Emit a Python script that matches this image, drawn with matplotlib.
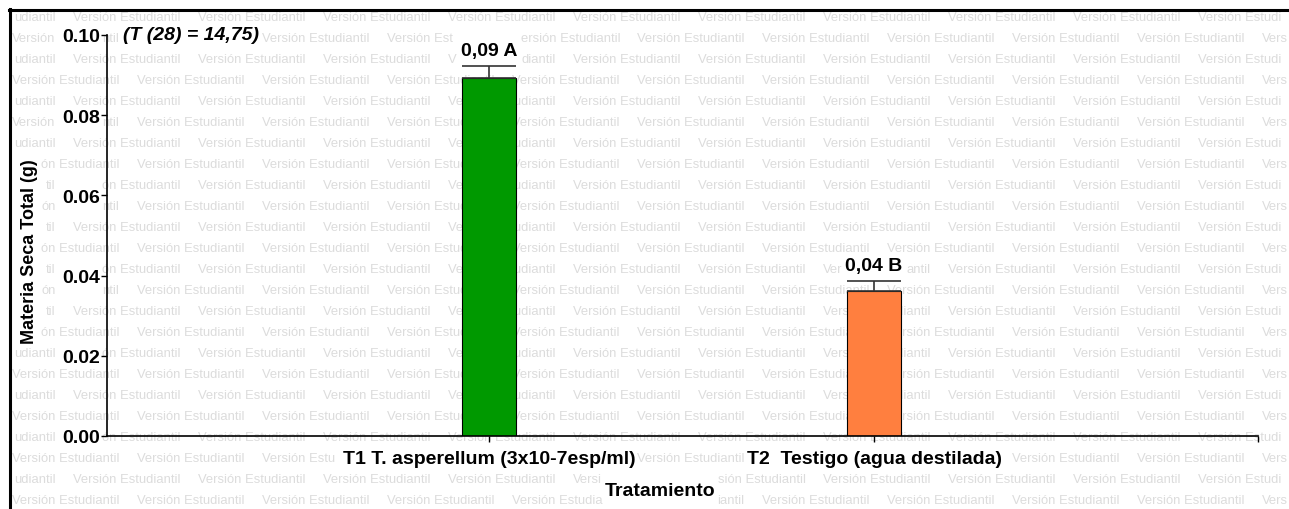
import matplotlib
matplotlib.use("Agg")
import matplotlib.pyplot as plt
from matplotlib.lines import Line2D
from matplotlib.font_manager import FontProperties

# ---- data ----
categories = ["T1 T. asperellum (3x10-7esp/ml)", "T2  Testigo (agua destilada)"]
means = [0.0894, 0.0362]
errors = [0.0029, 0.0025]
letters = ["0,09 A", "0,04 B"]
bar_colors = ["#009900", "#FF7F3F"]
yticks = [0.00, 0.02, 0.04, 0.06, 0.08, 0.10]
ytick_labels = ["0.00", "0.02", "0.04", "0.06", "0.08", "0.10"]
stat_text = "(T (28) = 14,75)"
xlabel = "Tratamiento"
ylabel = "Materia Seca Total (g)"
watermark = "Versión Estudiantil"

W, H = 1289, 510
plt.rcParams['font.family'] = ['Liberation Sans', 'DejaVu Sans']
fig = plt.figure(figsize=(W / 100, H / 100), dpi=100)
white_box = dict(facecolor='white', edgecolor='none', pad=1)

# ---- main axes ----
x0, x1 = 107, 1258
y0, y1 = 437, 36
ax = fig.add_axes([x0 / W, (H - y0) / H, (x1 - x0) / W, (y0 - y1) / H], zorder=2)
ax.set_facecolor('none')
xpos = list(range(len(categories)))
ax.bar(xpos, means, width=0.14, color=bar_colors, edgecolor='black', linewidth=0.8, zorder=2)
ax.errorbar(xpos, means, yerr=[[0] * len(errors), errors], fmt='none', ecolor='#333333',
            elinewidth=1.2, capsize=19.5, capthick=1.2, zorder=3)
ax.set_xlim(-0.992, 1.997)
ax.set_ylim(0, 0.10)
ax.spines['top'].set_visible(False)
ax.spines['right'].set_visible(False)
ax.spines['left'].set_linewidth(1.2)
ax.spines['bottom'].set_linewidth(1.2)
ax.set_yticks(yticks)
ax.set_yticklabels(ytick_labels, fontsize=14, fontweight='bold')
ax.set_xticks(xpos)
ax.set_xticklabels(categories, fontsize=14, fontweight='bold')
ax.set_xticks([1.997], minor=True)
ax.tick_params(axis='both', which='both', direction='out', length=4, width=1.0, pad=1)
ax.tick_params(axis='x', which='major', pad=6)
for lbl in ax.get_yticklabels() + ax.get_xticklabels():
    lbl.set_bbox(dict(white_box))

fg_texts = []
for xi, m, e, lab in zip(xpos, means, errors, letters):
    fg_texts.append(ax.annotate(lab, xy=(xi, m + e), xytext=(0, 8), textcoords='offset points',
                                ha='center', va='baseline', fontsize=14, fontweight='bold',
                                bbox=dict(white_box)))

fg_texts.append(fig.text(123 / W, 1 - 35 / H, stat_text, ha='left', va='center', fontsize=14,
                         fontweight='bold', fontstyle='italic', zorder=5, bbox=dict(white_box)))
fg_texts.append(fig.text(660 / W, 1 - 492 / H, xlabel, ha='center', va='center', fontsize=14,
                         fontweight='bold', zorder=5, bbox=dict(white_box)))
fg_texts.append(fig.text(30 / W, 1 - 252 / H, ylabel, ha='center', va='center', rotation=90,
                         fontsize=13, fontweight='bold', zorder=5, bbox=dict(white_box)))

fig.canvas.draw()
renderer = fig.canvas.get_renderer()
fg_texts += list(ax.get_yticklabels()) + list(ax.get_xticklabels())
exclusions = []
for t in fg_texts:
    bb = t.get_window_extent(renderer)
    exclusions.append((bb.x0 - 1, bb.x1 + 1, H - bb.y1 - 1, H - bb.y0 + 1))

# ---- background watermark (trimmed at frame edges and around labels) ----
bg = fig.add_axes([0, 0, 1, 1], zorder=0)
bg.set_xlim(0, W)
bg.set_ylim(H, 0)
bg.axis('off')
wm_fp = FontProperties(family='Liberation Sans', size=9.4)
_cache = {}


def tw(s):
    if not s:
        return 0.0
    if s not in _cache:
        w, h, d = renderer.get_text_width_height_descent(s, wm_fp, ismath=False)
        _cache[s] = w
    return _cache[s]


left_edge, right_edge = 11, W - 1


def draw_piece(x, y, s):
    half = 6
    intervals = [(left_edge, right_edge)]
    for ex0, ex1, ey0, ey1 in exclusions:
        if ey1 < y - half or ey0 > y + half:
            continue
        new = []
        for a, b in intervals:
            if ex1 <= a or ex0 >= b:
                new.append((a, b))
            else:
                if ex0 > a:
                    new.append((a, ex0))
                if ex1 < b:
                    new.append((ex1, b))
        intervals = new
    for a, b in intervals:
        idx = [i for i in range(len(s))
               if x + tw(s[:i]) >= a and x + tw(s[:i + 1]) <= b]
        if not idx:
            continue
        # group consecutive indices
        groups = []
        cur = [idx[0]]
        for i in idx[1:]:
            if i == cur[-1] + 1:
                cur.append(i)
            else:
                groups.append(cur)
                cur = [i]
        groups.append(cur)
        for g in groups:
            i0, i1 = g[0], g[-1] + 1
            sub = s[i0:i1]
            lead = len(sub) - len(sub.lstrip(' '))
            i0 += lead
            sub = s[i0:i1].rstrip(' ')
            if sub:
                bg.text(x + tw(s[:i0]), y, sub, fontproperties=wm_fp, color='#dcdcdc',
                        ha='left', va='center')


period = 125
row = 0
y = 18
while y < H - 5:
    start = 73 if row % 2 == 0 else 12
    x = start - period
    while x < right_edge:
        draw_piece(x, y, watermark)
        x += period
    y += 21
    row += 1

# ---- figure border (left and top) ----
fig.add_artist(Line2D([10 / W, 10 / W], [0, 1 - 10 / H], color='black', linewidth=2.2,
                      transform=fig.transFigure, zorder=10))
fig.add_artist(Line2D([9 / W, 1], [1 - 11 / H, 1 - 11 / H], color='black', linewidth=2.2,
                      transform=fig.transFigure, zorder=10))

fig.savefig("out.png", dpi=100, facecolor='white')
